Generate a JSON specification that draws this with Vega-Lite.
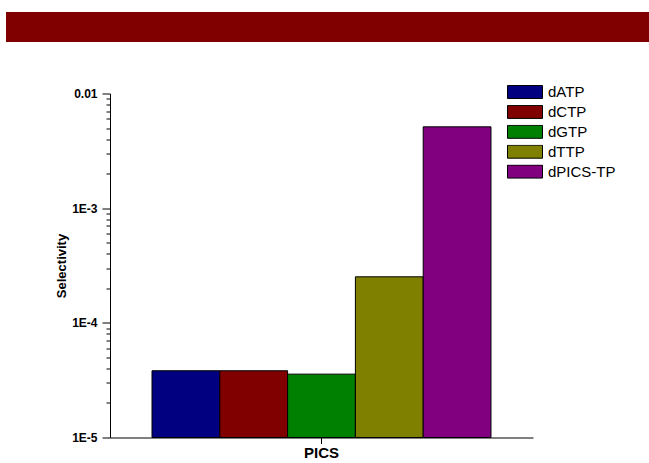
{
  "$schema": "https://vega.github.io/schema/vega-lite/v6.json",
  "padding": {"left": 6, "top": 12, "right": 0, "bottom": 0},
  "background": "white",
  "spacing": 42.5,
  "config": {
    "view": {"stroke": null},
    "axis": {"grid": false, "domainColor": "black", "tickColor": "black", "labelColor": "black", "titleColor": "black"}
  },
  "resolve": {"scale": {"x": "independent", "y": "independent", "color": "independent"}},
  "vconcat": [
    {
      "width": 643,
      "height": 30,
      "data": {"values": [{"x0": 0, "x1": 1, "y0": 0, "y1": 1}]},
      "mark": {"type": "rect", "color": "#800000"},
      "encoding": {
        "x": {"field": "x0", "type": "quantitative", "scale": {"domain": [0, 1], "nice": false, "zero": false}, "axis": null},
        "x2": {"field": "x1"},
        "y": {"field": "y0", "type": "quantitative", "scale": {"domain": [0, 1], "nice": false, "zero": false}, "axis": null},
        "y2": {"field": "y1"}
      }
    },
    {
      "spacing": 0,
      "resolve": {"scale": {"x": "independent", "y": "independent"}},
      "hconcat": [
        {
          "width": 49,
          "height": 10,
          "view": {"fill": "transparent", "stroke": null},
          "data": {"values": []},
          "mark": "point"
        },
        {
          "width": 423,
          "height": 344,
          "data": {
            "values": [
              {"category": "PICS", "series": "dATP", "value": 3.82e-5},
              {"category": "PICS", "series": "dCTP", "value": 3.82e-5},
              {"category": "PICS", "series": "dGTP", "value": 3.57e-5},
              {"category": "PICS", "series": "dTTP", "value": 2.52e-4},
              {"category": "PICS", "series": "dPICS-TP", "value": 5.12e-3}
            ]
          },
          "layer": [
            {
              "mark": {"type": "bar", "stroke": "black", "strokeWidth": 1},
              "encoding": {
                "x": {
                  "field": "category", "type": "nominal",
                  "scale": {"paddingInner": 0, "paddingOuter": 0.1239},
                  "axis": {"title": null, "labelAngle": 0, "labelFont": "Liberation Sans", "labelFontSize": 15, "labelFontWeight": "bold", "tickSize": 6, "labelPadding": 2}
                },
                "xOffset": {
                  "field": "series", "type": "nominal",
                  "sort": ["dATP", "dCTP", "dGTP", "dTTP", "dPICS-TP"],
                  "scale": {"paddingInner": 0, "paddingOuter": 0}
                },
                "y": {
                  "field": "value", "type": "quantitative",
                  "scale": {"type": "log", "domain": [0.00001, 0.01], "nice": false},
                  "axis": {
                    "orient": "left",
                    "values": [0.00001, 0.0001, 0.001, 0.01],
                    "labelExpr": "datum.value >= 0.005 ? '0.01' : upper(format(datum.value, '.0e'))",
                    "labelFont": "Liberation Sans", "labelFontSize": 12, "labelFontWeight": "bold",
                    "labelPadding": 5, "tickSize": 8, "labelFlush": false, "labelOverlap": false,
                    "title": "Selectivity",
                    "titleFont": "Liberation Sans", "titleFontSize": 13, "titleFontWeight": "bold",
                    "titlePadding": 3
                  }
                },
                "y2": {"datum": 0.00001},
                "color": {
                  "field": "series", "type": "nominal",
                  "scale": {
                    "domain": ["dATP", "dCTP", "dGTP", "dTTP", "dPICS-TP"],
                    "range": ["#000080", "#800000", "#008000", "#808000", "#800080"]
                  },
                  "legend": {
                    "title": null, "orient": "none", "legendX": 501, "legendY": -8.5,
                    "symbolType": "M-1,-0.371H1V0.371H-1Z", "symbolSize": 1225,
                    "symbolStrokeColor": "black", "symbolStrokeWidth": 1, "symbolOpacity": 1,
                    "labelFont": "Liberation Sans", "labelFontSize": 15, "labelColor": "black",
                    "labelOffset": 5, "clipHeight": 14, "rowPadding": 4.9, "padding": 0
                  }
                }
              }
            },
            {
              "mark": {"type": "point", "opacity": 0},
              "encoding": {
                "y": {
                  "field": "value", "type": "quantitative",
                  "axis": {
                    "orient": "left",
                    "values": [0.00002, 0.00003, 0.00004, 0.00005, 0.00006, 0.00007, 0.00008, 0.00009, 0.0002, 0.0003, 0.0004, 0.0005, 0.0006, 0.0007, 0.0008, 0.0009, 0.002, 0.003, 0.004, 0.005, 0.006, 0.007, 0.008, 0.009],
                    "labels": false, "domain": false, "tickSize": 4, "title": null
                  }
                }
              }
            }
          ],
          "resolve": {"axis": {"y": "independent"}}
        }
      ]
    }
  ]
}
